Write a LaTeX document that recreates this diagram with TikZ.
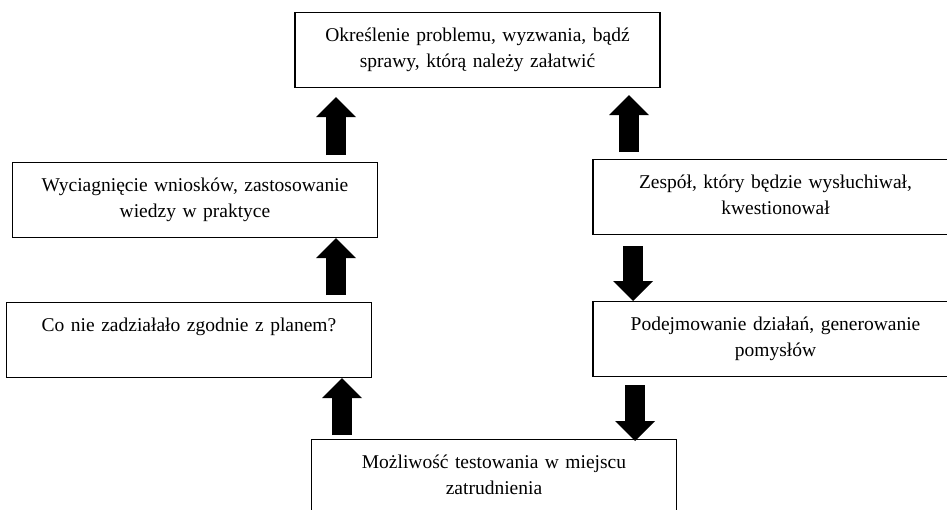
\documentclass[tikz,border=0pt]{standalone}
\usepackage{fontspec}
\setmainfont{Liberation Serif}
\usetikzlibrary{calc}
\usetikzlibrary{arrows.meta}

\begin{document}
\begin{tikzpicture} [x=1pt, y=-1pt,
  krok/.style={draw, line width=1.1pt, anchor=north, align=center, text width=357pt,
    inner xsep=4pt, inner ysep=14pt, text height=15pt, text depth=32pt,
    font=\fontsize{19.5}{26}\selectfont},
  gruba/.style={line width=20pt, -{Triangle[width=40pt,length=20pt,line width=0pt]}}]
\useasboundingbox (0,0) rectangle (947,509);
\node[krok] (problem) at (477.5,12) {Określenie problemu, wyzwania, bądź\\ sprawy, którą należy załatwić};
\node[krok] (wnioski) at (195,162) {Wyciagnięcie wniosków, zastosowanie\\ wiedzy w praktyce};
\node[krok] (plan) at (189,302) {Co nie zadziałało zgodnie z planem?};
\node[krok] (zespol) at (775.5,159) {Zespół, który będzie wysłuchiwał,\\ kwestionował};
\node[krok] (pomysly) at (775.5,301) {Podejmowanie działań, generowanie\\ pomysłów};
\node[krok] (test) at (494,439) {Możliwość testowania w miejscu\\ zatrudnienia};
\coordinate (kolA) at (336,0);
\coordinate (kolB) at (342,0);
\coordinate (kolC) at (629,0);
\coordinate (kolD) at (633,0);
\coordinate (kolE) at (635,0);
\draw[gruba, shorten <=7pt, shorten >=9pt] (wnioski.north -| kolA) -- (problem.south -| kolA);
\draw[gruba, shorten <=7pt, shorten >=7pt] (zespol.north -| kolC) -- (problem.south -| kolC);
\draw[gruba, shorten <=7pt] (plan.north -| kolA) -- (wnioski.south -| kolA);
\draw[gruba, shorten <=11pt] (zespol.south -| kolD) -- (pomysly.north -| kolD);
\draw[gruba, shorten <=4pt] (test.north -| kolB) -- (plan.south -| kolB);
\draw[gruba, shorten <=8pt, shorten >=-2pt] (pomysly.south -| kolE) -- (test.north -| kolE);
\end{tikzpicture}
\end{document}
